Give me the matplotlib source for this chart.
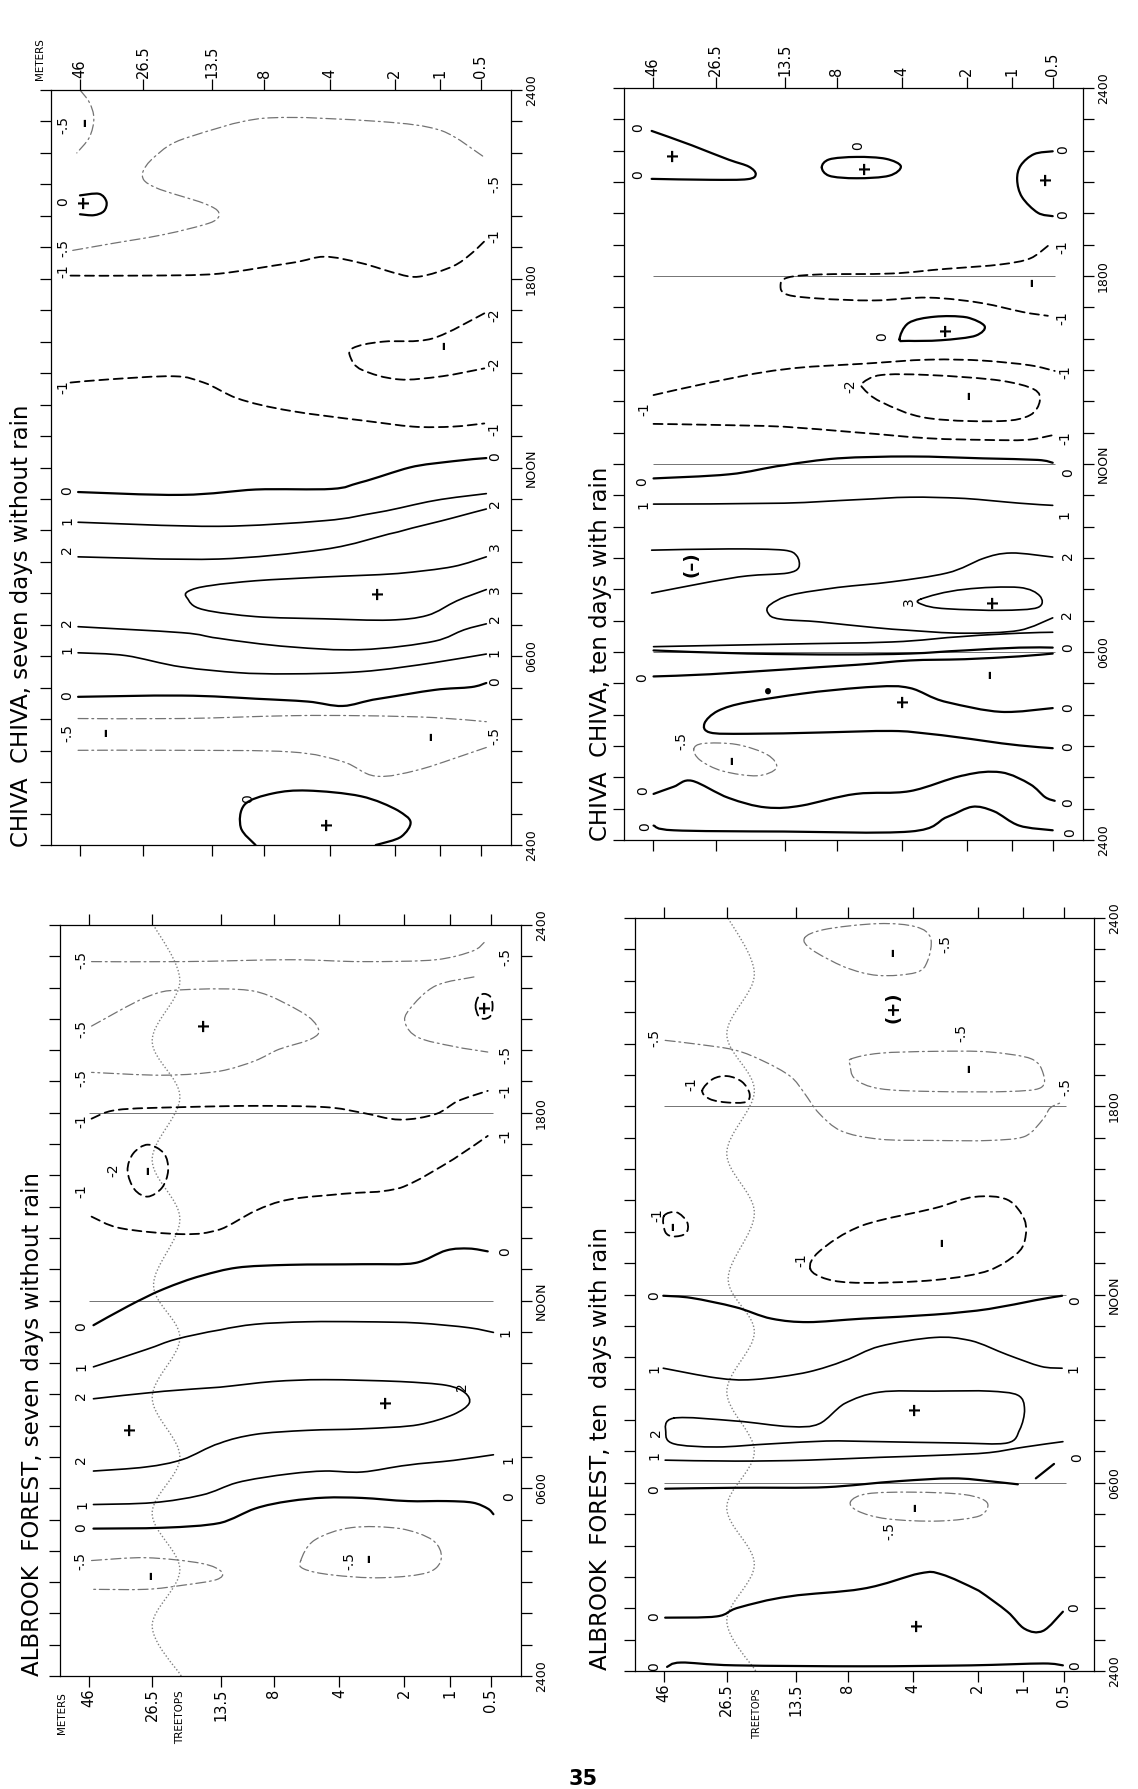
#!/usr/bin/env python3
"""Four rotated time-height isopleth diagrams (Chiva Chiva / Albrook Forest)."""

import numpy as np
import matplotlib
matplotlib.use('Agg')
import matplotlib.pyplot as plt
from matplotlib.path import Path
from matplotlib.patches import PathPatch

# height levels along the horizontal axis: level 0 = 46 m ... level 7 = 0.5 m
HEIGHT_LABELS = ['46', '26.5', '13.5', '8', '4', '2', '1', '0.5']
HOURS = list(range(25))
TIME_LABELS = {0: '2400', 6: '0600', 12: 'NOON', 18: '1800', 24: '2400'}

# dotted treetop line (hour, level) -- same in both Albrook panels
TREETOP_HOURS = [0, 1.6, 3.4, 5.2, 7.0, 8.9, 10.8, 12.5, 14.6, 16.5, 18.5, 20.3, 22.2, 24]
TREETOP_LEVEL = [1.42, 1.0, 1.4, 1.0, 1.4, 1.0, 1.4, 1.02, 1.4, 1.0, 1.4, 1.0, 1.4, 1.02]

# isopleths: (value, closed, [(level, hour), ...])
CHIVA_DRY = [
    (-0.5, False, [(0.0, 24.0), (0.15, 23.6), (0.22, 23.1), (0.15, 22.5), (-0.05, 22.0)]),
    (0, False, [(0.0, 20.65), (0.3, 20.7), (0.42, 20.45), (0.38, 20.15), (0.22, 20.02), (0.0, 20.05)]),
    (-0.5, False, [(7.05, 21.9), (6.05, 22.7), (4.76, 23.0), (2.97, 23.1), (1.66, 22.5), (1.18, 21.9),
                   (0.99, 21.3), (1.18, 20.9), (1.88, 20.4), (2.13, 20.1), (2.0, 19.8), (1.29, 19.4),
                   (0.45, 19.1), (-0.12, 18.9)]),
    (-1, False, [(-0.15, 18.1), (1.02, 18.1), (2.13, 18.16), (3.4, 18.5), (3.92, 18.7), (4.48, 18.5),
                 (5.07, 18.16), (5.55, 18.07), (6.32, 18.4), (6.77, 18.8), (7.14, 19.25)]),
    (-2, False, [(7.09, 16.9), (5.83, 16.1), (4.82, 16.0), (4.36, 15.8), (4.32, 15.5), (4.5, 15.1),
                 (5.1, 14.8), (6.05, 14.9), (7.09, 15.15)]),
    (-1, False, [(-0.15, 14.7), (0.45, 14.8), (1.45, 14.9), (1.88, 14.7), (2.48, 14.2), (3.4, 13.8),
                 (4.48, 13.5), (5.4, 13.3), (6.32, 13.3), (7.09, 13.4)]),
    (0, False, [(-0.03, 11.22), (1.56, 11.13), (2.83, 11.3), (4.03, 11.32), (4.48, 11.53), (5.33, 12.0),
                (6.32, 12.2), (7.14, 12.3)]),
    (1, False, [(-0.03, 10.26), (2.13, 10.13), (3.92, 10.31), (4.76, 10.58), (5.88, 10.95), (7.14, 11.17)]),
    (2, False, [(-0.03, 9.16), (2.13, 9.09), (3.92, 9.4), (5.07, 9.95), (6.32, 10.4), (7.14, 10.68)]),
    (3, False, [(7.14, 9.16), (6.32, 8.85), (5.07, 8.63), (3.92, 8.52), (2.83, 8.4), (1.99, 8.25),
                (1.66, 8.07), (1.64, 7.85), (1.88, 7.48), (2.83, 7.26), (3.92, 7.19), (4.93, 7.15),
                (5.72, 7.3), (6.41, 7.76), (7.14, 8.12)]),
    (2, False, [(-0.03, 6.94), (1.56, 6.75), (2.13, 6.57), (3.39, 6.3), (4.48, 6.21), (5.88, 6.48),
                (6.59, 6.84), (7.14, 7.03)]),
    (1, False, [(-0.03, 6.11), (0.73, 6.02), (1.56, 5.66), (2.48, 5.48), (3.39, 5.44), (4.48, 5.51),
                (5.88, 5.8), (7.14, 6.07)]),
    (0, False, [(-0.03, 4.71), (1.56, 4.75), (2.83, 4.65), (3.66, 4.56), (4.2, 4.42), (4.76, 4.65),
                (5.88, 4.93), (6.77, 5.02), (7.14, 5.15)]),
    (-0.5, False, [(-0.03, 4.02), (1.56, 4.02), (3.39, 4.11), (4.48, 4.11), (5.88, 4.05), (7.14, 3.92)]),
    (-0.5, False, [(-0.03, 3.01), (1.56, 3.01), (3.39, 2.96), (4.2, 2.65), (4.71, 2.19), (5.47, 2.37),
                   (6.32, 2.74), (7.14, 3.1)]),
    (0, False, [(2.83, 0.0), (2.55, 0.55), (2.62, 1.28), (3.13, 1.64), (3.66, 1.73), (4.48, 1.55),
                (5.07, 1.1), (5.35, 0.73), (5.15, 0.27), (4.71, 0.0)]),
]
CHIVA_DRY_MARKS = [
    ('-.5', -0.26, 22.9), ('–', 0.08, 23.0), ('0', -0.26, 20.44), ('+', 0.05, 20.44),
    ('-.5', -0.26, 18.98), ('-1', -0.26, 18.25), ('-.5', 7.35, 21.0), ('-1', 7.35, 19.35),
    ('-2', 7.35, 16.83), ('-2', 7.35, 15.3), ('–', 6.09, 15.9), ('-1', -0.26, 14.56),
    ('-1', 7.35, 13.23), ('0', 7.35, 12.36), ('0', -0.2, 11.28), ('1', -0.2, 10.31),
    ('2', -0.2, 9.4), ('2', 7.35, 10.86), ('3', 7.35, 9.49), ('3', 7.35, 8.12), ('+', 4.73, 8.03),
    ('2', -0.2, 7.06), ('2', 7.35, 7.21), ('1', -0.2, 6.2), ('1', 7.35, 6.11), ('0', -0.2, 4.75),
    ('0', 7.35, 5.2), ('-.5', -0.2, 3.56), ('–', 0.42, 3.61), ('-.5', 7.35, 3.47), ('–', 5.8, 3.47),
    ('0', 2.69, 1.46), ('+', 3.95, 0.69),
]
CHIVA_DRY_GRID = []

CHIVA_WET = [
    (0, False, [(-0.02, 22.63), (0.62, 22.17), (1.19, 21.71), (1.48, 21.49), (1.58, 21.25), (1.46, 21.09),
                (0.91, 21.07), (-0.02, 21.1)]),
    (0, True, [(2.71, 21.47), (2.85, 21.72), (3.3, 21.8), (3.75, 21.74), (3.98, 21.5), (3.8, 21.2),
               (3.3, 21.12), (2.85, 21.2)]),
    (0, False, [(7.0, 21.98), (6.54, 21.89), (6.21, 21.53), (6.12, 21.07), (6.24, 20.52), (6.63, 20.02),
                (7.0, 19.91)]),
    (-1, False, [(6.88, 18.96), (6.44, 18.56), (5.75, 18.37), (4.69, 18.23), (3.84, 18.08), (2.67, 18.05),
                 (2.06, 17.95), (1.94, 17.68), (2.06, 17.4), (2.67, 17.28), (3.57, 17.22), (4.41, 17.31),
                 (5.35, 17.13), (6.26, 16.85), (6.88, 16.73)]),
    (0, True, [(3.96, 15.98), (4.1, 16.5), (4.5, 16.7), (5.0, 16.68), (5.39, 16.4), (5.2, 16.1),
               (4.6, 15.95), (4.1, 15.93)]),
    (-1, False, [(0.01, 14.2), (0.91, 14.6), (1.99, 15.02), (3.4, 15.2), (4.41, 15.33), (5.35, 15.3),
                 (6.44, 15.15), (7.05, 14.97)]),
    (-1, False, [(0.01, 13.28), (0.91, 13.25), (1.99, 13.19), (3.29, 13.01), (4.41, 12.82), (5.35, 12.77),
                 (6.35, 12.77), (7.0, 12.92)]),
    (-2, True, [(3.4, 14.6), (3.68, 14.84), (4.41, 14.84), (5.75, 14.66), (6.54, 14.38), (6.68, 14.01),
                (6.44, 13.56), (5.75, 13.37), (4.41, 13.46), (3.68, 13.98), (3.4, 14.42)]),
    (0, False, [(0.01, 11.54), (1.19, 11.67), (1.99, 11.96), (3.01, 12.18), (4.12, 12.24), (5.35, 12.18),
                (6.63, 12.13), (7.0, 12.04)]),
    (1, False, [(0.01, 10.72), (1.99, 10.75), (3.29, 10.86), (4.12, 10.94), (4.97, 10.9), (6.17, 10.75),
                (7.0, 10.68)]),
    (2, False, [(-0.02, 9.25), (1.19, 9.29), (1.99, 9.25), (2.23, 9.07), (2.27, 8.7), (2.06, 8.52),
                (1.46, 8.43), (0.91, 8.24), (-0.02, 7.88)]),
    (2, False, [(7.0, 9.03), (5.98, 9.16), (5.35, 8.98), (4.69, 8.52), (3.84, 8.24), (3.01, 8.06),
                (2.13, 7.82), (1.79, 7.51), (1.76, 7.24), (1.94, 7.05), (2.67, 6.96), (3.57, 6.78),
                (4.12, 6.69), (4.97, 6.6), (6.17, 6.69), (7.0, 7.09)]),
    (3, True, [(4.29, 7.69), (4.97, 8.0), (6.17, 8.06), (6.68, 7.79), (6.63, 7.42), (5.75, 7.33),
               (4.69, 7.38), (4.32, 7.51)]),
    (1, False, [(0.01, 6.17), (1.99, 6.25), (3.84, 6.32), (4.97, 6.5), (6.17, 6.6), (7.0, 6.63)]),
    (0, False, [(0.01, 6.05), (1.46, 5.95), (3.01, 5.92), (4.12, 5.95), (4.97, 6.05), (6.17, 6.14),
                (7.0, 6.14)]),
    (0, False, [(0.01, 5.22), (0.91, 5.29), (1.99, 5.44), (3.29, 5.59), (4.12, 5.73), (4.97, 5.77),
                (6.17, 5.86), (7.0, 5.95)]),
    (0, False, [(7.0, 4.21), (5.75, 4.09), (4.69, 4.4), (4.12, 4.85), (3.57, 4.89), (2.33, 4.67),
                (1.46, 4.4), (1.03, 4.12), (0.82, 3.72), (0.91, 3.43), (1.46, 3.39), (2.67, 3.43),
                (3.84, 3.48), (4.41, 3.39), (5.35, 3.17), (6.17, 3.02), (7.0, 2.93)]),
    (-0.5, True, [(0.65, 2.9), (0.8, 3.08), (1.3, 3.05), (1.75, 2.72), (1.88, 2.3), (1.6, 2.05),
                  (1.1, 2.2), (0.75, 2.55)]),
    (0, False, [(0.01, 1.47), (0.33, 1.7), (0.62, 1.89), (1.19, 1.34), (1.73, 1.04), (2.33, 1.1),
                (3.29, 1.47), (4.12, 1.56), (4.97, 2.07), (5.75, 2.16), (6.44, 1.78), (6.81, 1.37),
                (7.05, 1.25)]),
    (0, False, [(0.01, 0.46), (0.33, 0.31), (1.99, 0.27), (4.12, 0.27), (4.69, 0.73), (5.12, 1.06),
                (5.59, 0.92), (6.17, 0.46), (7.0, 0.31)]),
]
CHIVA_WET_MARKS = [
    ('0', -0.23, 22.72), ('0', -0.23, 21.25), ('+', 0.3, 21.89), ('0', 3.32, 22.17), ('+', 3.42, 21.47),
    ('0', 7.25, 22.02), ('0', 7.25, 19.97), ('+', 6.81, 21.1), ('-1', 7.25, 18.92), ('-1', 7.25, 16.67),
    ('–', 6.49, 17.83), ('0', 3.7, 16.07), ('+', 4.66, 16.3), ('-1', -0.13, 13.74), ('-1', 7.32, 14.93),
    ('-1', 7.32, 12.82), ('-2', 3.2, 14.47), ('–', 5.04, 14.23), ('0', -0.17, 11.45), ('0', 7.37, 11.72),
    ('1', -0.15, 10.72), ('1', 7.3, 10.39), ('(–)', 0.62, 8.79), ('2', 7.37, 9.07), ('2', 7.35, 7.2),
    ('3', 4.1, 7.6), ('+', 5.55, 7.6), ('0', 7.37, 6.14), ('0', -0.17, 5.17), ('–', 5.51, 5.31),
    ('•', 1.76, 4.85), ('0', 7.37, 4.21), ('0', 7.37, 2.99), ('+', 4.0, 4.45), ('-.5', 0.45, 3.15),
    ('–', 1.23, 2.56), ('0', -0.15, 1.56), ('0', 7.37, 1.19), ('0', -0.13, 0.42), ('0', 7.42, 0.24),
]
CHIVA_WET_GRID = [6, 12, 18]

ALBROOK_DRY = [
    (-0.5, False, [(0.04, 22.83), (1.44, 22.83), (3.24, 22.89), (4.35, 22.83), (5.69, 22.89),
                   (6.56, 23.17), (6.84, 23.44)]),
    (-0.5, False, [(0.04, 20.77), (0.9, 21.69), (1.44, 21.93), (2.64, 21.88), (3.41, 21.23), (3.68, 20.68),
                   (3.57, 20.36), (3.08, 20.03), (2.64, 19.66), (1.98, 19.33), (1.17, 19.2), (0.04, 19.29)]),
    (-0.5, False, [(6.59, 22.34), (5.69, 22.06), (5.12, 21.32), (5.02, 20.86), (5.31, 20.4), (6.09, 20.12),
                   (6.93, 19.94)]),
    (-1, True, [(6.63, 21.41), (6.7, 21.7), (6.84, 21.8), (7.0, 21.7), (7.05, 21.41), (7.0, 21.1),
                (6.84, 21.0), (6.7, 21.1)]),
    (-1, False, [(0.04, 17.81), (0.44, 18.09), (1.44, 18.18), (2.64, 18.22), (3.78, 18.18), (4.35, 18.0),
                 (4.94, 17.78), (5.69, 17.96), (6.19, 18.37), (6.93, 18.7)]),
    (-2, True, [(0.61, 16.15), (0.7, 16.7), (0.93, 16.98), (1.17, 16.7), (1.23, 16.15), (1.14, 15.6),
                (0.93, 15.32), (0.72, 15.55)]),
    (-1, False, [(0.04, 14.68), (0.5, 14.31), (1.44, 14.12), (1.98, 14.27), (2.64, 14.86), (3.24, 15.23),
                 (4.06, 15.41), (4.94, 15.6), (6.09, 16.52), (6.93, 17.26)]),
    (0, False, [(0.07, 11.21), (0.61, 11.81), (1.17, 12.37), (1.71, 12.79), (2.3, 13.05), (3.24, 13.14),
                (4.35, 13.16), (5.24, 13.2), (5.92, 13.6), (6.47, 13.66), (6.93, 13.57)]),
    (1, False, [(0.07, 9.88), (0.9, 10.43), (1.34, 10.76), (1.98, 11.06), (2.64, 11.24), (3.51, 11.32),
                (4.35, 11.32), (5.31, 11.28), (6.47, 11.13), (7.07, 10.98)]),
    (2, False, [(0.07, 6.55), (0.9, 6.68), (1.44, 6.92), (1.98, 7.44), (2.64, 7.72), (3.51, 7.85),
                (4.35, 7.9), (5.31, 8.03), (6.09, 8.36), (6.47, 8.71), (6.37, 9.05), (5.92, 9.29),
                (4.94, 9.41), (3.78, 9.47), (2.97, 9.41), (1.98, 9.23), (1.17, 9.1), (0.07, 8.86)]),
    (1, False, [(0.07, 5.48), (1.01, 5.54), (1.71, 5.78), (2.3, 6.18), (3.24, 6.46), (3.78, 6.55),
                (4.35, 6.52), (5.08, 6.74), (6.09, 6.89), (7.07, 7.07)]),
    (0, False, [(0.07, 4.71), (1.17, 4.74), (1.98, 4.89), (2.64, 5.35), (3.24, 5.59), (3.78, 5.7),
                (4.35, 5.69), (5.08, 5.59), (5.92, 5.59), (6.56, 5.54), (6.93, 5.35), (7.07, 5.17)]),
    (-0.5, True, [(3.41, 3.69), (3.62, 4.34), (4.18, 4.74), (4.94, 4.71), (5.62, 4.34), (5.81, 3.78),
                  (5.54, 3.32), (4.65, 3.14), (3.89, 3.23), (3.46, 3.42)]),
    (-0.5, False, [(0.04, 3.69), (0.9, 3.78), (1.71, 3.6), (2.01, 3.32), (1.93, 3.08), (1.44, 2.9),
                   (0.9, 2.77), (0.04, 2.77)]),
]
ALBROOK_DRY_MARKS = [
    ('-.5', -0.12, 22.89), ('-.5', 7.36, 22.98), ('-.5', -0.12, 20.68), ('-.5', -0.12, 19.11),
    ('+', 1.74, 20.82), ('-.5', 7.36, 19.84), ('+', 6.84, 21.41), ('-1', -0.12, 17.72), ('-1', 7.36, 18.7),
    ('-2', 0.38, 16.15), ('–', 0.93, 16.19), ('-1', -0.12, 15.5), ('-1', 7.36, 17.26), ('0', -0.12, 11.17),
    ('0', 7.36, 13.57), ('1', -0.12, 9.88), ('1', 7.36, 10.98), ('2', -0.12, 8.95), ('2', 6.3, 9.25),
    ('+', 4.71, 8.77), ('+', 0.64, 7.9), ('2', -0.12, 6.92), ('1', -0.1, 5.48), ('1', 7.45, 6.92),
    ('0', -0.12, 4.74), ('0', 7.45, 5.72), ('-.5', 4.15, 3.69), ('–', 4.45, 3.78), ('-.5', -0.13, 3.69),
    ('–', 0.98, 3.23),
]
ALBROOK_DRY_GRID = [12, 18]

ALBROOK_WET = [
    (-0.5, True, [(2.17, 23.36), (2.54, 23.63), (3.46, 23.82), (4.04, 23.72), (4.27, 23.36), (4.22, 22.62),
                  (4.04, 22.26), (3.46, 22.17), (2.93, 22.44), (2.31, 22.99)]),
    (-0.5, False, [(0.02, 20.1), (0.56, 19.97), (1.12, 19.79), (1.55, 19.42), (1.92, 18.96), (2.17, 18.41),
                   (2.45, 17.77), (2.86, 17.22), (3.49, 16.95), (4.33, 16.91), (5.25, 16.91), (6.04, 17.04),
                   (6.49, 17.59), (6.67, 17.95), (6.98, 18.14)]),
    (-0.5, True, [(3.05, 19.51), (3.49, 19.69), (4.33, 19.75), (5.25, 19.73), (6.2, 19.51), (6.49, 19.05),
                  (6.43, 18.59), (5.65, 18.47), (4.33, 18.47), (3.49, 18.56), (3.11, 18.87), (3.03, 19.33)]),
    (-1, True, [(0.61, 18.5), (0.78, 18.87), (1.01, 18.96), (1.22, 18.78), (1.33, 18.41), (1.28, 18.14),
                (1.01, 18.12), (0.73, 18.23)]),
    (-1, True, [(0.0, 14.5), (0.2, 14.62), (0.37, 14.3), (0.35, 13.95), (0.15, 13.85), (0.02, 14.0)]),
    (-1, True, [(2.28, 12.82), (2.45, 13.37), (3.22, 14.2), (4.33, 14.75), (4.95, 15.11), (5.65, 15.02),
                (6.03, 14.38), (6.04, 13.74), (5.84, 13.28), (5.25, 12.77), (4.33, 12.46), (3.22, 12.37),
                (2.6, 12.49)]),
    (0, False, [(-0.01, 11.96), (0.44, 11.89), (1.12, 11.6), (1.65, 11.23), (2.24, 11.12), (3.22, 11.23),
                (4.33, 11.36), (5.25, 11.54), (6.31, 11.82), (6.96, 11.96)]),
    (1, False, [(-0.01, 9.65), (0.84, 9.34), (1.39, 9.29), (2.24, 9.53), (2.93, 9.89), (3.49, 10.35),
                (4.33, 10.63), (4.89, 10.53), (5.65, 10.08), (6.43, 9.71), (6.96, 9.65)]),
    (2, True, [(0.16, 8.06), (1.12, 7.97), (1.92, 7.79), (2.45, 7.88), (2.93, 8.52), (3.49, 8.89),
               (4.33, 8.92), (5.25, 8.92), (5.88, 8.79), (6.03, 8.34), (5.92, 7.69), (5.65, 7.27),
               (4.61, 7.27), (3.49, 7.31), (2.59, 7.33), (1.64, 7.24), (0.84, 7.14), (0.16, 7.24),
               (0.03, 7.6)]),
    (1, False, [(0.02, 6.72), (1.12, 6.69), (2.24, 6.72), (3.49, 6.81), (4.33, 6.87), (5.25, 6.96),
                (6.04, 7.14), (6.98, 7.31)]),
    (0, False, [(0.02, 5.81), (1.12, 5.84), (2.59, 5.86), (3.77, 6.05), (4.61, 6.14), (5.25, 6.05),
                (5.88, 5.95)]),
    (0, False, [(6.31, 6.14), (6.76, 6.6)]),
    (-0.5, True, [(3.04, 5.4), (3.3, 5.65), (4.0, 5.7), (4.8, 5.62), (5.21, 5.35), (5.05, 4.95),
                  (4.4, 4.78), (3.6, 4.85), (3.15, 5.1)]),
    (0, False, [(0.02, 1.7), (0.84, 1.74), (1.17, 2.02), (1.92, 2.38), (3.22, 2.62), (4.1, 3.11),
                (4.44, 3.08), (5.02, 2.56), (5.65, 1.89), (6.04, 1.34), (6.49, 1.28), (6.98, 1.89)]),
    (0, False, [(0.05, 0.13), (0.27, 0.27), (1.12, 0.18), (3.22, 0.15), (4.9, 0.18), (6.49, 0.24),
                (6.98, 0.18)]),
]
ALBROOK_WET_MARKS = [
    ('-.5', 4.5, 23.17), ('–', 3.69, 22.95), ('(+)', 3.7, 21.16), ('-.5', -0.15, 20.16),
    ('-.5', 4.75, 20.34), ('–', 4.87, 19.24), ('-.5', 7.05, 18.6), ('-1', 0.44, 18.69),
    ('-1', -0.1, 14.53), ('–', 0.15, 14.2), ('-1', 2.1, 13.1), ('–', 4.44, 13.7), ('0', -0.15, 11.96),
    ('0', 7.29, 11.82), ('1', -0.15, 9.65), ('1', 7.25, 9.65), ('2', -0.12, 7.6), ('+', 4.02, 8.37),
    ('1', -0.15, 6.87), ('0', -0.15, 5.77), ('0', 7.34, 6.81), ('-.5', 3.64, 4.45), ('–', 4.03, 5.25),
    ('0', -0.15, 1.74), ('0', 7.25, 2.02), ('+', 4.05, 1.47), ('0', -0.15, 0.13), ('0', 7.29, 0.18),
]
ALBROOK_WET_GRID = [6, 12, 18]

# ---------------------------------------------------------------- scale
# where the height ticks sit across the frame (fraction of width)
_LVL = [-3, 0, 1, 2, 3, 4, 5, 6, 7, 10]
_POS = [-0.348, 0.063, 0.20, 0.35, 0.464, 0.606, 0.747, 0.846, 0.934, 1.198]


def lvl_to_pos(v):
    return np.interp(v, _LVL, _POS)


def pos_to_lvl(p):
    return np.interp(p, _POS, _LVL)


def smooth_path(pts, closed):
    p = np.asarray(pts, float)
    n = len(p)
    if n == 2:
        return Path(p, [Path.MOVETO, Path.LINETO])
    if closed:
        ext = np.vstack([p[-1], p, p[0], p[1]])
        nseg = n
    else:
        ext = np.vstack([p[0], p, p[-1]])
        nseg = n - 1
    verts = [ext[1]]
    codes = [Path.MOVETO]
    for i in range(1, nseg + 1):
        p0, p1, p2, p3 = ext[i - 1], ext[i], ext[i + 1], ext[i + 2]
        verts += [p1 + (p2 - p0) / 6.0, p2 - (p3 - p1) / 6.0, p2]
        codes += [Path.CURVE4] * 3
    return Path(np.array(verts), codes)


def line_style(value):
    if value == -0.5:
        return dict(edgecolor='0.45', linewidth=0.9, linestyle=(0, (8, 3, 1.5, 3)))
    if value < 0:
        return dict(edgecolor='black', linewidth=1.3, linestyle=(0, (5, 3)))
    if value == 0:
        return dict(edgecolor='black', linewidth=1.6, linestyle='-')
    return dict(edgecolor='black', linewidth=1.2, linestyle='-')


W, H = 1138, 1789


def add_panel(frame, lines, marks, grid, labels_top, treetops):
    left, top, right, bottom = frame
    ax = fig.add_axes([left / W, 1 - bottom / H, (right - left) / W, (bottom - top) / H])
    ax.set_xscale('function', functions=(lvl_to_pos, pos_to_lvl))
    ax.set_xlim(pos_to_lvl(0.0), pos_to_lvl(1.0))
    ax.set_ylim(0, 24)
    ax.set_xticks(range(len(HEIGHT_LABELS)))
    ax.set_xticklabels(HEIGHT_LABELS, rotation=90)
    ax.minorticks_off()
    ax.tick_params(axis='x', top=True, bottom=True, labeltop=labels_top,
                   labelbottom=not labels_top, direction='out', length=8,
                   width=0.9, labelsize=10.5, pad=1)
    ax.set_yticks(HOURS)
    ax.set_yticklabels([TIME_LABELS.get(h, '') for h in HOURS], rotation=90, va='center')
    ax.tick_params(axis='y', left=True, right=True, labelleft=False, labelright=True,
                   direction='out', length=8, width=0.9, labelsize=9, pad=2)
    for s in ax.spines.values():
        s.set_linewidth(0.9)

    for h in grid:
        ax.hlines(h, 0, 7.05, color='0.45', lw=0.7, zorder=1)
    if treetops:
        ax.add_patch(PathPatch(smooth_path(list(zip(TREETOP_LEVEL, TREETOP_HOURS)), False),
                               fill=False, edgecolor='0.5', lw=1.0, linestyle=(0, (1, 1.5)),
                               zorder=1))
    for value, closed, pts in lines:
        ax.add_patch(PathPatch(smooth_path(pts, closed), fill=False, zorder=2,
                               capstyle='round', **line_style(value)))
    for txt, lv, hr in marks:
        big = txt in ('+', '–', '•', '(+)', '(–)')
        ax.text(lv, hr, txt, rotation=90, ha='center', va='center',
                fontsize=13 if big else 10, fontweight='bold' if big else 'normal',
                zorder=3)
    return ax


fig = plt.figure(figsize=(W / 100, H / 100), dpi=100)
plt.rcParams['font.family'] = ['DejaVu Sans']

add_panel((51, 90, 511, 845), CHIVA_DRY, CHIVA_DRY_MARKS, CHIVA_DRY_GRID, True, False)
add_panel((624, 88, 1083, 840), CHIVA_WET, CHIVA_WET_MARKS, CHIVA_WET_GRID, True, False)
add_panel((60, 925, 521, 1676), ALBROOK_DRY, ALBROOK_DRY_MARKS, ALBROOK_DRY_GRID, False, True)
add_panel((635, 918, 1094, 1671), ALBROOK_WET, ALBROOK_WET_MARKS, ALBROOK_WET_GRID, False, True)

titles = [
    (22, 847, 'CHIVA  CHIVA, seven days without rain'),
    (600, 841, 'CHIVA  CHIVA, ten days with rain'),
    (33, 1676, 'ALBROOK  FOREST, seven days without rain'),
    (601, 1670, 'ALBROOK  FOREST, ten  days with rain'),
]
for x, y, t in titles:
    fig.text(x / W, 1 - y / H, t, rotation=90, ha='center', va='bottom', fontsize=16.5)

fig.text(40 / W, 1 - 80 / H, 'METERS', rotation=90, ha='center', va='bottom', fontsize=7.5)
fig.text(62 / W, 1 - 1692 / H, 'METERS', rotation=90, ha='center', va='top', fontsize=7.5)
fig.text(180 / W, 1 - 1690 / H, 'TREETOPS', rotation=90, ha='center', va='top', fontsize=7.5)
fig.text(757 / W, 1 - 1688 / H, 'TREETOPS', rotation=90, ha='center', va='top', fontsize=7)
fig.text(583 / W, 1 - 1779 / H, '35', ha='center', va='center', fontsize=15, fontweight='bold')

fig.savefig('out.png', dpi=100, facecolor='white')
